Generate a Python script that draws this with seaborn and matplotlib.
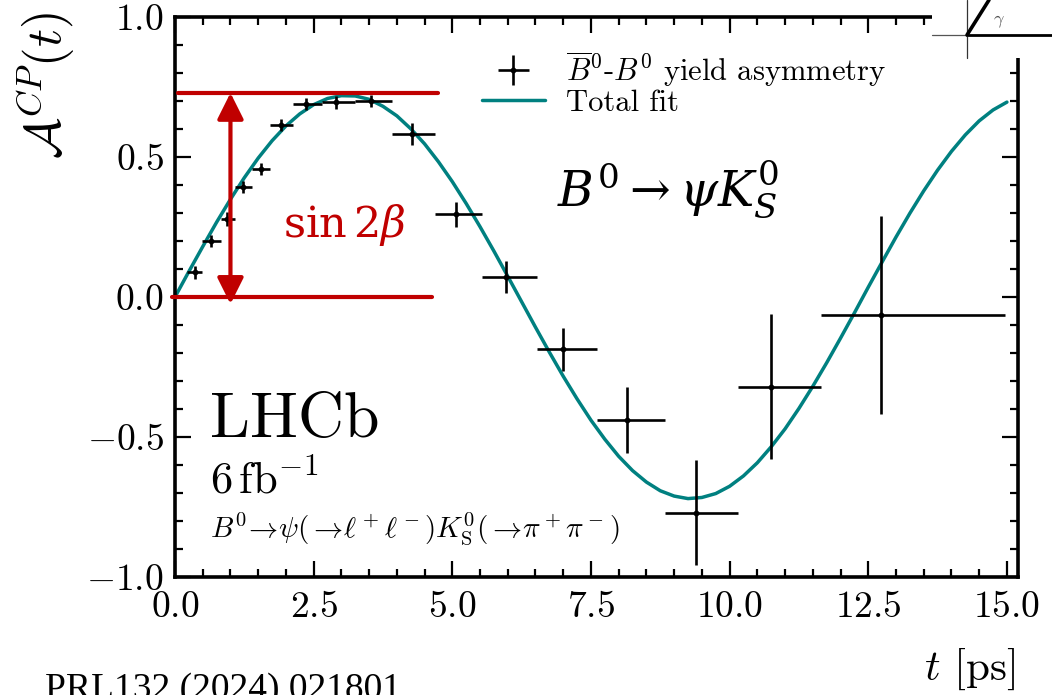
import numpy as np
import pandas as pd
import matplotlib
matplotlib.use("Agg")
import matplotlib.pyplot as plt
import seaborn as sns
from matplotlib.lines import Line2D
from matplotlib.patches import Rectangle
from matplotlib.ticker import MultipleLocator

# ---------------- data ----------------
t_centre = [0.36, 0.65, 0.94, 1.23, 1.55, 1.92, 2.37, 2.91, 3.53, 4.28,
            5.07, 5.97, 7.00, 8.15, 9.39, 10.75, 12.73]
asym = [0.088, 0.200, 0.280, 0.393, 0.457, 0.614, 0.690, 0.695, 0.700, 0.582,
        0.296, 0.072, -0.186, -0.440, -0.770, -0.320, -0.065]
asym_err = [0.022, 0.020, 0.025, 0.020, 0.020, 0.022, 0.022, 0.022, 0.022, 0.040,
            0.045, 0.057, 0.077, 0.118, 0.188, 0.260, 0.354]
bin_lo = [0.22, 0.49, 0.83, 1.08, 1.39, 1.72, 2.12, 2.65, 3.24, 3.92,
          4.69, 5.54, 6.53, 7.60, 8.83, 10.16, 11.64]
bin_hi = [0.49, 0.83, 1.08, 1.39, 1.72, 2.12, 2.65, 3.24, 3.92, 4.69,
          5.54, 6.53, 7.60, 8.83, 10.16, 11.64, 14.96]

# total fit curve, values read every 0.25 ps
fit_t = np.arange(0, 15.001, 0.25)
fit_A = [0.000, 0.091, 0.180, 0.267, 0.349, 0.426, 0.496, 0.558, 0.611, 0.654,
         0.687, 0.709, 0.719, 0.718, 0.706, 0.681, 0.647, 0.601, 0.547, 0.483,
         0.412, 0.334, 0.251, 0.164, 0.074, -0.017, -0.108, -0.197, -0.283, -0.364,
         -0.440, -0.508, -0.569, -0.620, -0.661, -0.692, -0.711, -0.720, -0.716, -0.702,
         -0.676, -0.639, -0.592, -0.535, -0.471, -0.398, -0.319, -0.235, -0.147, -0.057,
         0.035, 0.125, 0.214, 0.299, 0.379, 0.453, 0.520, 0.579, 0.629, 0.668, 0.696]

sin2beta = 0.729          # height of the red annotation
arrow_t = 1.0             # t position of the red double arrow

x_ticks = [0.0, 2.5, 5.0, 7.5, 10.0, 12.5, 15.0]
y_ticks = [-1.0, -0.5, 0.0, 0.5, 1.0]

legend_labels = [r"$\overline{B}^0$-$B^0$ yield asymmetry", "Total fit"]

TEAL = "#008080"
RED = "#C00000"

# ---------------- style ----------------
sns.set_theme(style="ticks")
plt.rcParams.update({
    "font.family": ["cmr10", "DejaVu Serif"],
    "mathtext.fontset": "cm",
    "axes.formatter.use_mathtext": True,
    "axes.unicode_minus": True,
    "text.color": "black",
    "axes.labelcolor": "black",
    "axes.linewidth": 2.6,
    "xtick.direction": "in", "ytick.direction": "in",
    "xtick.top": True, "ytick.right": True,
    "xtick.major.size": 11.5, "ytick.major.size": 11.5,
    "xtick.minor.size": 6, "ytick.minor.size": 6,
    "xtick.major.width": 1.6, "ytick.major.width": 1.6,
    "xtick.minor.width": 1.6, "ytick.minor.width": 1.6,
    "xtick.color": "black", "ytick.color": "black",
    "xtick.labelcolor": "black", "ytick.labelcolor": "black",
    "axes.edgecolor": "black",
})

W, H = 1052, 695
fig = plt.figure(figsize=(W / 100, H / 100), dpi=100)
fig.patch.set_facecolor("white")
ax = fig.add_axes([175 / W, 1 - 577 / H, 843 / W, 560 / H])
ax.set_facecolor("white")

df_fit = pd.DataFrame({"t": fit_t, "A": fit_A})
sns.lineplot(data=df_fit, x="t", y="A", color=TEAL, lw=2.5, ax=ax, zorder=2)

t_arr = np.array(t_centre)
xerr = [t_arr - np.array(bin_lo), np.array(bin_hi) - t_arr]
eb = ax.errorbar(t_arr, asym, xerr=xerr, yerr=asym_err, fmt="o", color="black",
                 ms=3.2, elinewidth=1.9, capsize=0, zorder=3)

ax.set_xlim(0, 15.2)
ax.set_ylim(-1, 1)
ax.set_xticks(x_ticks)
ax.set_yticks(y_ticks)
ax.xaxis.set_minor_locator(MultipleLocator(0.5))
ax.yaxis.set_minor_locator(MultipleLocator(0.1))
ax.tick_params(which="both", labelsize=27)
ax.tick_params(axis="x", which="major", pad=10)
ax.tick_params(axis="y", which="major", pad=8)
ax.set_xlabel("")
ax.set_ylabel("")
for s in ax.spines.values():
    s.set_linewidth(2.6)
    s.set_color("black")

# axis titles
fig.text(46 / W, 1 - 12 / H, r"$\mathcal{A}^{CP}(t)$", rotation=90,
         ha="center", va="top", fontsize=36)
fig.text(1016 / W, 1 - 680 / H, r"$t$ [ps]", ha="right", va="baseline", fontsize=31)

# legend
fit_handle = Line2D([], [], color=TEAL, lw=2.5)
ax.legend(handles=[eb, fit_handle], labels=legend_labels, loc="upper left",
          bbox_to_anchor=(482 / W, 1 - 49 / H), bbox_transform=fig.transFigure,
          frameon=False, fontsize=22, handlelength=2.05, handletextpad=0.7,
          labelspacing=0.02, borderpad=0, borderaxespad=0)

# LHCb labels
ax.text(0.0415, 0.25, "LHCb", transform=ax.transAxes, fontsize=46, va="baseline")
ax.text(0.0415, 0.15, r"$6\,\mathrm{fb}^{-1}$", transform=ax.transAxes,
        fontsize=32, va="baseline")
ax.text(0.0415, 0.071,
        r"$B^0\!\rightarrow\!\psi(\rightarrow\!\ell^+\ell^-)K^0_{\rm S}(\rightarrow\!\pi^+\pi^-)$",
        transform=ax.transAxes, fontsize=21, va="baseline")

# overlay annotations
ax.text(0.453, 0.664, r"$B^0 \rightarrow \psi K_S^0$", transform=ax.transAxes,
        fontsize=35, va="baseline", math_fontfamily="dejavuserif")
ax.text(0.128, 0.607, r"$\sin 2\beta$", transform=ax.transAxes, color=RED,
        fontsize=31, va="baseline", math_fontfamily="dejavuserif")
ax.plot([0.05, 4.75], [sin2beta, sin2beta], color=RED, lw=3, clip_on=False, zorder=4)
ax.plot([-0.05, 4.64], [0.0, 0.0], color=RED, lw=3, clip_on=False, zorder=4)
ax.annotate("", xy=(arrow_t, sin2beta), xytext=(arrow_t, -0.025),
            arrowprops=dict(arrowstyle="<|-|>", color=RED, lw=3,
                            mutation_scale=40, shrinkA=0, shrinkB=0), zorder=5)

# cropped gamma inset in the top-right corner
fig.add_artist(Rectangle((932 / W, 1 - 58 / H), (W - 932) / W, 58 / H,
                         transform=fig.transFigure, facecolor="white",
                         edgecolor="none", zorder=10))
fig.add_artist(Line2D([932 / W, 967 / W], [1 - 35 / H, 1 - 35 / H],
                      transform=fig.transFigure, color="#555555", lw=0.9, zorder=11))
fig.add_artist(Line2D([967 / W, 1 - 0.0001], [1 - 35 / H, 1 - 35 / H],
                      transform=fig.transFigure, color="black", lw=2.0, zorder=11))
fig.add_artist(Line2D([967 / W, 967 / W], [1, 1 - 58 / H],
                      transform=fig.transFigure, color="#333333", lw=0.9, zorder=11))
fig.add_artist(Line2D([967 / W, 989 / W], [1 - 35 / H, 1],
                      transform=fig.transFigure, color="black", lw=2.6, zorder=11))
fig.text(993 / W, 1 - 24 / H, r"$\gamma$", fontsize=13, color="#555555", zorder=12)

# citation (cut by the lower edge, as in the reference)
fig.text(45 / W, -4 / H, "PRL132 (2024) 021801", family="Liberation Serif",
         fontsize=27, va="baseline", ha="left")

fig.savefig("out.png", dpi=100, facecolor="white")
